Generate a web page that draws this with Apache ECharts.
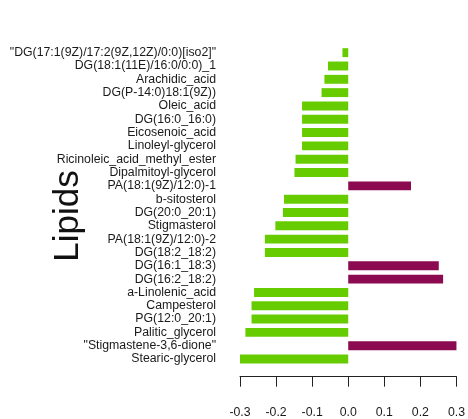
<!DOCTYPE html>
<html>
<head>
<meta charset="utf-8">
<script src="https://cdn.jsdelivr.net/npm/echarts@6/dist/echarts.min.js"></script>
<style>
  html, body { margin: 0; padding: 0; background: #fff; }
  #chart { width: 468px; height: 419px; }
</style>
</head>
<body>
<div id="chart"></div>
<script>
// Lipids, listed top to bottom
const lipids = [
  '"DG(17:1(9Z)/17:2(9Z,12Z)/0:0)[iso2]"',
  'DG(18:1(11E)/16:0/0:0)_1',
  'Arachidic_acid',
  'DG(P-14:0)18:1(9Z))',
  'Oleic_acid',
  'DG(16:0_16:0)',
  'Eicosenoic_acid',
  'Linoleyl-glycerol',
  'Ricinoleic_acid_methyl_ester',
  'Dipalmitoyl-glycerol',
  'PA(18:1(9Z)/12:0)-1',
  'b-sitosterol',
  'DG(20:0_20:1)',
  'Stigmasterol',
  'PA(18:1(9Z)/12:0)-2',
  'DG(18:2_18:2)',
  'DG(16:1_18:3)',
  'DG(16:2_18:2)',
  'a-Linolenic_acid',
  'Campesterol',
  'PG(12:0_20:1)',
  'Palitic_glycerol',
  '"Stigmastene-3,6-dione"',
  'Stearic-glycerol'
];

const scores = [
  -0.016, -0.056, -0.066, -0.074, -0.128, -0.128, -0.128, -0.128,
  -0.146, -0.149, 0.174, -0.178, -0.181, -0.202, -0.231, -0.231,
  0.251, 0.263, -0.261, -0.268, -0.268, -0.285, 0.300, -0.300
];

const xTicks = [-0.3, -0.2, -0.1, 0.0, 0.1, 0.2, 0.3];

const NEG_COLOR = '#66CC00';
const POS_COLOR = '#8B0A50';
const FONT = '"Liberation Sans", Arial, sans-serif';

const chart = echarts.init(document.getElementById('chart'), null, { renderer: 'canvas' });

chart.setOption({
  backgroundColor: '#ffffff',
  animation: false,
  grid: { left: 240, right: 10.3, top: 46, bottom: 53.3, containLabel: false },
  xAxis: {
    type: 'value',
    min: xTicks[0],
    max: xTicks[xTicks.length - 1],
    interval: 0.1,
    offset: 11,
    splitLine: { show: false },
    axisLine: { show: true, onZero: false, lineStyle: { color: '#222', width: 1 } },
    axisTick: { show: true, inside: false, length: 10, lineStyle: { color: '#222', width: 1 } },
    axisLabel: {
      margin: 30,
      fontFamily: FONT,
      fontSize: 12.3,
      color: '#1a1a1a',
      formatter: v => v.toFixed(1)
    }
  },
  yAxis: {
    type: 'category',
    data: lipids,
    inverse: true,
    axisLine: { show: false },
    axisTick: { show: false },
    splitLine: { show: false },
    axisLabel: {
      interval: 0,
      hideOverlap: false,
      margin: 24,
      fontFamily: FONT,
      fontSize: 12.3,
      color: '#1a1a1a'
    }
  },
  series: [{
    type: 'bar',
    data: scores,
    barCategoryGap: '33%',
    itemStyle: {
      color: p => (p.value >= 0 ? POS_COLOR : NEG_COLOR)
    }
  }],
  graphic: [{
    type: 'text',
    x: 68,
    y: 216,
    rotation: Math.PI / 2,
    style: {
      text: 'Lipids',
      font: '35px ' + FONT,
      fill: '#111',
      textAlign: 'center',
      textVerticalAlign: 'middle'
    }
  }]
});
</script>
</body>
</html>
